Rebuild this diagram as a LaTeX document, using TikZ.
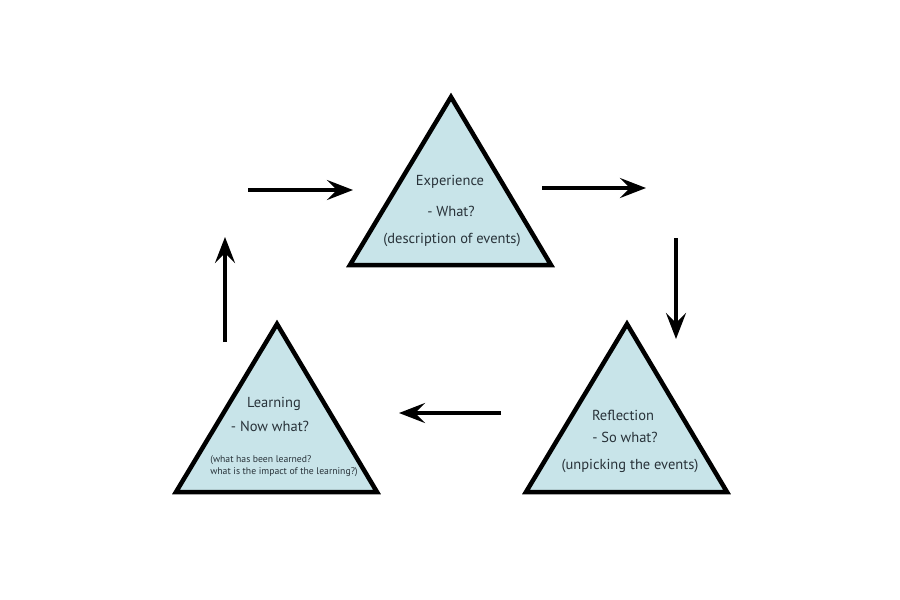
\documentclass[tikz,border=0pt]{standalone}
\usepackage{fontspec}
\setmainfont{PT Sans}
\usepackage{tikz}
\usetikzlibrary{arrows.meta}
\definecolor{triblue}{RGB}{200,228,233}
\definecolor{txt}{RGB}{40,50,57}
\tikzstyle{diag}=[x=1pt, y=-1pt]
\tikzstyle{tri}=[draw=black, line width=4.5pt, line join=miter, fill=triblue]
\tikzstyle{t}=[inner sep=0pt, text=txt, font=\fontsize{14.5}{16}\selectfont]
\tikzstyle{ts}=[inner sep=0pt, text=txt, font=\fontsize{9.7}{12.5}\selectfont, align=left]
\tikzstyle{edge}=[line width=3.5pt, -{Stealth[length=26pt, width=20pt, inset=10pt]}]

\begin{document}
\begin{tikzpicture}[diag]
	\useasboundingbox (0,0) rectangle (900,600);
	% triangles
	\draw[tri] (451,97) -- (551,265) -- (350,265) -- cycle;
	\draw[tri] (627,324) -- (727,492) -- (526,492) -- cycle;
	\draw[tri] (277,324) -- (377,492) -- (176,492) -- cycle;
	% experience
	\draw (450,182) node[t] (exp1) {Experience};
	\draw (451,211) node[t] (exp2) {- What?};
	\draw (452,240) node[t] (exp3) {(description of events)};
	% reflection
	\draw (623,415) node[t] (ref1) {Reflection};
	\draw (625,437) node[t] (ref2) {- So what?};
	\draw (630,466) node[t] (ref3) {(unpicking the events)};
	% learning
	\draw (274,404) node[t] (lrn1) {Learning};
	\draw (270,426) node[t] (lrn2) {- Now what?};
	\draw (284,466) node[ts] (lrn3) {(what has been learned?\\what is the impact of the learning?)};
	% arrows
	\coordinate (a1) at (248,190);
	\coordinate (b1) at (353,190);
	\coordinate (a2) at (542,188);
	\coordinate (b2) at (646,188);
	\coordinate (a3) at (676,238);
	\coordinate (b3) at (676,339);
	\coordinate (a4) at (501,413);
	\coordinate (b4) at (399,413);
	\coordinate (a5) at (225,342);
	\coordinate (b5) at (225,237);
	\draw[edge] (a1) -- (b1);
	\draw[edge] (a2) -- (b2);
	\draw[edge] (a3) -- (b3);
	\draw[edge] (a4) -- (b4);
	\draw[edge] (a5) -- (b5);
\end{tikzpicture}
\end{document}
